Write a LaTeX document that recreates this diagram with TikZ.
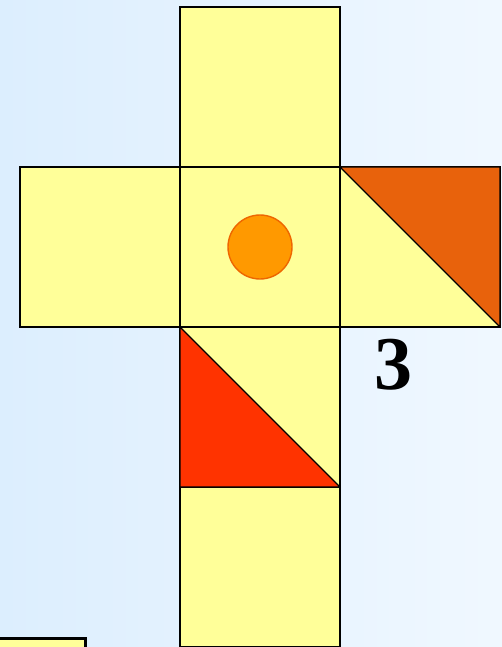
\documentclass[tikz,border=0pt]{standalone}
\usepackage{fontspec}
\setmainfont{Liberation Serif}
\usetikzlibrary{positioning}
\definecolor{facey}{HTML}{FFFF99}
\definecolor{darkor}{HTML}{E8620C}
\definecolor{redtri}{HTML}{FF3300}
\definecolor{dotor}{HTML}{FF9900}
\definecolor{dotrim}{HTML}{EE6600}
\definecolor{bgleft}{HTML}{DCEEFE}
\definecolor{bgright}{HTML}{F0F8FF}

\begin{document}
\begin{tikzpicture}[x=1pt, y=-1pt, node distance=0pt,
    face/.style={draw, fill=facey, line width=1.4pt, minimum size=160pt, inner sep=0pt, outer sep=0pt},
    dot/.style={draw=dotrim, fill=dotor, circle, line width=1.4pt, minimum size=64pt, inner sep=0pt}]
    % background and frame
    \shade[left color=bgleft, right color=bgright] (0,0) rectangle (502,647);
    \useasboundingbox (0,0) rectangle (502,647);
    \clip (0,0) rectangle (502,647);

    \node[face] (mid) at (260,247) {};
    \node[face, above=of mid] (top) {};
    \node[face, left=of mid] (lft) {};
    \node[face, right=of mid] (rgt) {};
    \node[face, below=of mid] (low) {};
    \node[face, below=of low] (btm) {};

    % shaded halves
    \fill[darkor] (rgt.north west) -- (rgt.north east) -- (rgt.south east) -- cycle;
    \fill[redtri] (low.north west) -- (low.south west) -- (low.south east) -- cycle;
    \draw[line width=1.4pt] (rgt.north west) rectangle (rgt.south east)
        (rgt.north west) -- (rgt.south east);
    \draw[line width=1.4pt] (low.north west) rectangle (low.south east)
        (low.north west) -- (low.south east);

    \node[dot] (spot) at (mid.center) {};
    \node[font=\fontsize{76}{80}\selectfont\bfseries] (num) at (393,365) {3};

    % corner of a further face
    \node[draw, fill=facey, line width=3pt, minimum width=100pt, minimum height=40pt,
        inner sep=0pt, anchor=north east] (edge) at (86.5,637) {};
\end{tikzpicture}
\end{document}
